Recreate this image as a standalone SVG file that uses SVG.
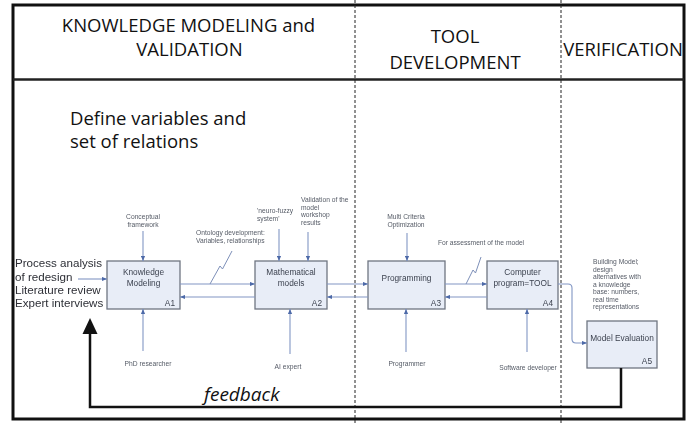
<svg xmlns="http://www.w3.org/2000/svg" width="687" height="425" viewBox="0 0 687 425">
  <defs>
    <style>
      .hdr{font-family:"Open Sans","Liberation Sans",sans-serif;font-size:18.5px;fill:#111;text-anchor:middle}
      .note{font-family:"Open Sans","Liberation Sans",sans-serif;font-size:18.5px;fill:#111}
      .fbk{font-family:"Open Sans","Liberation Sans",sans-serif;font-size:19px;font-style:italic;fill:#111}
      .box{fill:#e8edf7;stroke:#6f7682;stroke-width:1.3}
      .lbl{font-family:"Liberation Sans",Arial,sans-serif;font-size:8.3px;fill:#3d4350;text-anchor:middle}
      .num{font-family:"Liberation Sans",Arial,sans-serif;font-size:8.3px;fill:#3d4350;text-anchor:end}
      .sm{font-family:"Liberation Sans",Arial,sans-serif;font-size:6.7px;fill:#555b66}
      .smc{font-family:"Liberation Sans",Arial,sans-serif;font-size:6.7px;fill:#555b66;text-anchor:middle}
      .src{font-family:"Liberation Sans",Arial,sans-serif;font-size:11.6px;fill:#2d2f36}
      .flow{fill:none;stroke:#8196c4;stroke-width:1.1}
      .tick{fill:none;stroke:#7d8fb8;stroke-width:1}
      .frame{fill:none;stroke:#111;stroke-width:3}
      .lane{stroke:#222;stroke-width:1;stroke-dasharray:3 2}
    </style>
    <marker id="ah" viewBox="0 0 6 6" refX="6" refY="3" markerWidth="5" markerHeight="5" orient="auto" markerUnits="userSpaceOnUse">
      <path d="M0,0.5 L6,3 L0,5.5 Z" fill="#4d6aa8"/>
    </marker>
    <filter id="soft" x="-5%" y="-5%" width="110%" height="110%">
      <feGaussianBlur stdDeviation="0.35"/>
    </filter>
  </defs>

  <rect width="687" height="425" fill="#fff"/>

  <!-- outer frame, header rule and lane separators -->
  <rect class="frame" x="13" y="5" width="671" height="414"/>
  <line x1="13" y1="79.5" x2="684" y2="79.5" stroke="#222" stroke-width="2.5"/>
  <line class="lane" x1="355" y1="0" x2="355" y2="425"/>
  <line class="lane" x1="561" y1="0" x2="561" y2="425"/>

  <!-- lane headings -->
  <g id="lane-knowledge">
    <text class="hdr" x="188.5" y="32">KNOWLEDGE MODELING and</text>
    <text class="hdr" x="189.5" y="56">VALIDATION</text>
  </g>
  <g id="lane-tool">
    <text class="hdr" x="455" y="43">TOOL</text>
    <text class="hdr" x="455" y="69">DEVELOPMENT</text>
  </g>
  <g id="lane-verification">
    <text class="hdr" x="623" y="56">VERIFICATION</text>
  </g>

  <g id="step-note">
    <text class="note" x="70" y="125">Define variables and</text>
    <text class="note" x="70" y="148">set of relations</text>
  </g>

  <!-- IDEF0 process chart -->
  <g id="idef0" filter="url(#soft)">
    <g id="inputs">
      <text class="src" x="15" y="267">Process analysis</text>
      <text class="src" x="15" y="281">of  redesign</text>
      <text class="src" x="15" y="294">Literature review</text>
      <text class="src" x="15" y="307">Expert interviews</text>
    </g>

    <g id="A1">
      <rect class="box" x="107" y="261" width="73" height="48"/>
      <text class="lbl" x="143.5" y="275">Knowledge</text>
      <text class="lbl" x="143.5" y="285.5">Modeling</text>
      <text class="num" x="175" y="306">A1</text>
      <text class="smc" x="143" y="219">Conceptual</text>
      <text class="smc" x="143" y="226.5">framework</text>
      <text class="smc" x="148" y="366">PhD researcher</text>
    </g>

    <g id="A2">
      <rect class="box" x="255" y="261" width="72" height="48"/>
      <text class="lbl" x="291" y="275">Mathematical</text>
      <text class="lbl" x="291" y="285.5">models</text>
      <text class="num" x="322" y="306">A2</text>
      <text class="sm" x="257" y="213">'neuro-fuzzy</text>
      <text class="sm" x="257" y="220.5">system'</text>
      <text class="sm" x="301" y="202">Validation of the</text>
      <text class="sm" x="301" y="209.5">model</text>
      <text class="sm" x="301" y="217">workshop</text>
      <text class="sm" x="301" y="224.5">results</text>
      <text class="smc" x="288" y="369">AI expert</text>
    </g>

    <g id="A3">
      <rect class="box" x="368" y="261" width="77" height="48"/>
      <text class="lbl" x="406.5" y="281">Programming</text>
      <text class="num" x="441" y="306">A3</text>
      <text class="smc" x="406" y="219">Multi Criteria</text>
      <text class="smc" x="406" y="226.5">Optimization</text>
      <text class="smc" x="407" y="366">Programmer</text>
    </g>

    <g id="A4">
      <rect class="box" x="487" y="261" width="71" height="48"/>
      <text class="lbl" x="522.5" y="275">Computer</text>
      <text class="lbl" x="522.5" y="286">program=TOOL</text>
      <text class="num" x="553" y="306">A4</text>
      <text class="smc" x="528" y="370">Software developer</text>
    </g>

    <g id="A5">
      <rect class="box" x="587" y="321" width="70" height="47"/>
      <text class="lbl" x="622" y="341">Model Evaluation</text>
      <text class="num" x="652" y="364">A5</text>
      <text class="sm" x="593" y="264">Building Model;</text>
      <text class="sm" x="593" y="271.5">design</text>
      <text class="sm" x="593" y="279">alternatives with</text>
      <text class="sm" x="593" y="286.5">a knowledge</text>
      <text class="sm" x="593" y="294">base: numbers,</text>
      <text class="sm" x="593" y="301.5">real time</text>
      <text class="sm" x="593" y="309">representations</text>
    </g>

    <g id="tunnel-labels">
      <text class="sm" x="196" y="235">Ontology development:</text>
      <text class="sm" x="196" y="243">Variables, relationships</text>
      <text class="smc" x="481" y="245">For assessment of the model</text>
    </g>

    <g id="connectors">
      <!-- inputs -->
      <path class="flow" d="M78,279 H107" marker-end="url(#ah)"/>
      <!-- controls -->
      <path class="flow" d="M143,231 V261" marker-end="url(#ah)"/>
      <path class="flow" d="M279,229 V261" marker-end="url(#ah)"/>
      <path class="flow" d="M308,232 V261" marker-end="url(#ah)"/>
      <path class="flow" d="M407,233 V261" marker-end="url(#ah)"/>
      <!-- mechanisms -->
      <path class="flow" d="M143,351 V309" marker-end="url(#ah)"/>
      <path class="flow" d="M290,354 V309" marker-end="url(#ah)"/>
      <path class="flow" d="M406,352 V309" marker-end="url(#ah)"/>
      <path class="flow" d="M527,352 V309" marker-end="url(#ah)"/>
      <!-- forward and feedback flows between activities -->
      <path class="flow" d="M180,284 H255" marker-end="url(#ah)"/>
      <path class="flow" d="M255,297 H180" marker-end="url(#ah)"/>
      <path class="flow" d="M327,284 H368" marker-end="url(#ah)"/>
      <path class="flow" d="M368,297 H327" marker-end="url(#ah)"/>
      <path class="flow" d="M445,284 H487" marker-end="url(#ah)"/>
      <path class="flow" d="M487,297 H445" marker-end="url(#ah)"/>
      <path class="flow" d="M558,284 H568 Q572,284 572,288 V339 Q572,343 576,343 H587" marker-end="url(#ah)"/>
      <!-- squiggles tying labels to flows -->
      <path class="tick" d="M210,284 L220,266 L222.5,269 L232,251"/>
      <path class="tick" d="M466,284 L473,270 L475.5,273 L481,257"/>
    </g>
  </g>

  <!-- feedback loop -->
  <g id="feedback">
    <path d="M621,368 V407 H90 V333" fill="none" stroke="#111" stroke-width="2.5"/>
    <polygon points="90,318 82.5,334 97.5,334" fill="#111"/>
    <text class="fbk" x="204" y="401">feedback</text>
  </g>
</svg>
